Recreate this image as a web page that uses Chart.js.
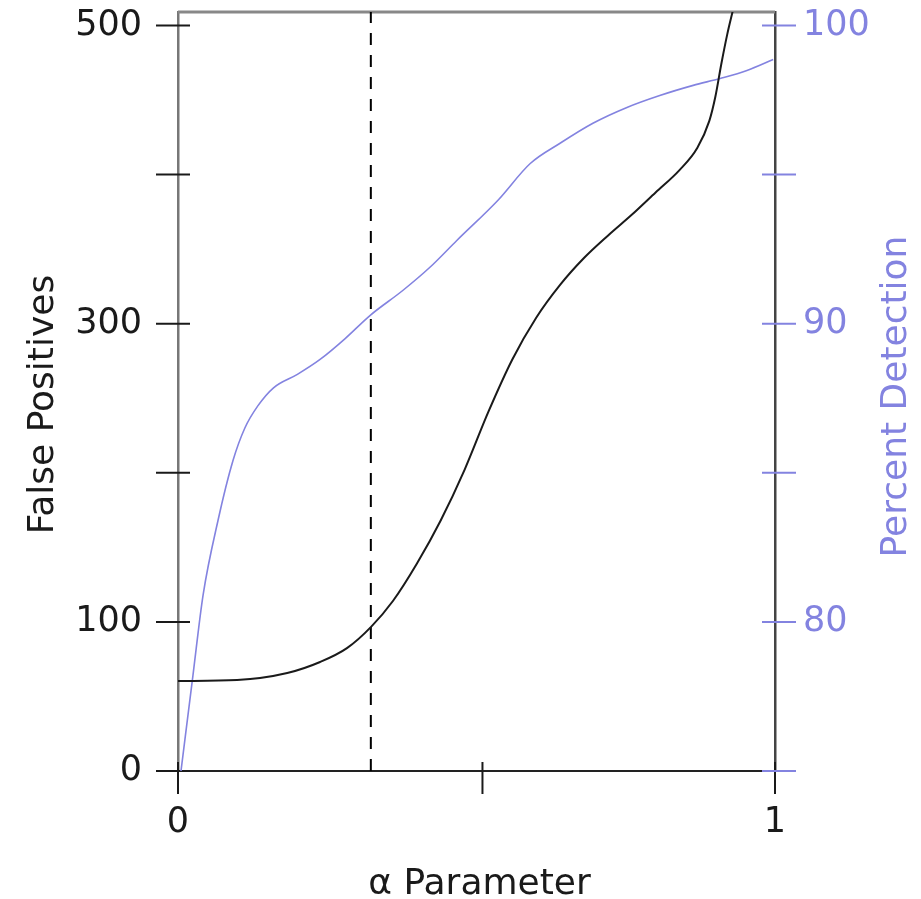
<!DOCTYPE html>
<html>
<head>
<meta charset="utf-8">
<script src="https://cdn.jsdelivr.net/npm/chart.js@4.4.1/dist/chart.umd.min.js"></script>
<style>
    html, body { margin: 0; padding: 0; background: #fff; }
    #chart-alpha { display: block; }
</style>
</head>
<body>
<canvas id="chart-alpha" width="921" height="899"></canvas>
<script>
// valores
const alphaFP = [0, 0.099, 0.183, 0.238, 0.283, 0.323, 0.36, 0.40, 0.44, 0.48, 0.52, 0.56, 0.60, 0.64, 0.68, 0.72, 0.76, 0.80, 0.84, 0.87, 0.89, 0.90, 0.91, 0.92, 0.93];
const falsePositives = [60.3, 61.0, 65.7, 73.1, 82.4, 96.5, 114, 139, 168, 202, 241, 276, 304, 326, 344, 359, 373, 388, 403, 418, 436, 452, 474, 494, 511];

const alphaDet = [0.005, 0.025, 0.042, 0.067, 0.092, 0.112, 0.134, 0.16, 0.20, 0.238, 0.28, 0.322, 0.377, 0.422, 0.467, 0.536, 0.59, 0.64, 0.695, 0.752, 0.807, 0.863, 0.908, 0.953, 0.997];
const percentDetection = [75.0, 78.2, 80.9, 83.4, 85.4, 86.5, 87.25, 87.85, 88.3, 88.8, 89.5, 90.28, 91.12, 91.89, 92.79, 94.14, 95.37, 96.05, 96.72, 97.25, 97.65, 97.99, 98.22, 98.49, 98.86];

const alphaCut = 0.323;

const fpTicks = [0, 100, 200, 300, 400, 500];
const fpTickLabels = ["0", "100", "", "300", "", "500"];
const detTicks = [75, 80, 85, 90, 95, 100];
const detTickLabels = ["", "80", "", "90", "", "100"];
const alphaTicks = [0, 0.51, 1];
const alphaTickLabels = ["0", "", "1"];

const fpRange = [0, 509];
const detRange = [75, 100.45];

const azul = "#8383e0";
const negro = "#1a1a1a";

Chart.defaults.font.family = "'DejaVu Sans', sans-serif";

// sin margen extra por las etiquetas
function sinPadding(scale) {
    scale.paddingTop = 0;
    scale.paddingBottom = 0;
    scale.paddingLeft = 0;
    scale.paddingRight = 0;
}

// ticks que cruzan el eje, borde superior y titulos de ejes
const ejesPlugin = {
    id: "ejes",
    beforeDatasetsDraw(chart) {
        const { ctx, chartArea, scales } = chart;
        ctx.save();
        ctx.lineWidth = 2;
        ctx.strokeStyle = negro;
        scales.y.ticks.forEach((t) => {
            const y = scales.y.getPixelForValue(t.value);
            ctx.beginPath();
            ctx.moveTo(chartArea.left - 22, y);
            ctx.lineTo(chartArea.left + 12, y);
            ctx.stroke();
        });
        scales.x.ticks.forEach((t) => {
            const x = scales.x.getPixelForValue(t.value);
            ctx.beginPath();
            ctx.moveTo(x, chartArea.bottom - 9);
            ctx.lineTo(x, chartArea.bottom + 23);
            ctx.stroke();
        });
        ctx.strokeStyle = azul;
        scales.y1.ticks.forEach((t) => {
            const y = scales.y1.getPixelForValue(t.value);
            ctx.beginPath();
            ctx.moveTo(chartArea.right - 13, y);
            ctx.lineTo(chartArea.right + 21, y);
            ctx.stroke();
        });
        ctx.strokeStyle = "#888";
        ctx.lineWidth = 3;
        ctx.beginPath();
        ctx.moveTo(chartArea.left, chartArea.top);
        ctx.lineTo(chartArea.right, chartArea.top);
        ctx.stroke();
        ctx.restore();
    },
    afterDraw(chart) {
        const { ctx, chartArea } = chart;
        const midY = (chartArea.top + chartArea.bottom) / 2;
        ctx.save();
        ctx.font = "36px 'DejaVu Sans'";
        ctx.textAlign = "center";
        ctx.textBaseline = "alphabetic";
        ctx.fillStyle = negro;
        ctx.fillText("α Parameter", (chartArea.left + chartArea.right) / 2 + 3, 894);

        ctx.save();
        ctx.translate(53, midY + 13);
        ctx.rotate(-Math.PI / 2);
        ctx.fillText("False Positives", 0, 0);
        ctx.restore();

        ctx.save();
        ctx.fillStyle = azul;
        ctx.translate(906, midY + 5);
        ctx.rotate(-Math.PI / 2);
        ctx.fillText("Percent Detection", 0, 0);
        ctx.restore();
        ctx.restore();
    },
};

const ctx = document.getElementById("chart-alpha").getContext("2d");
new Chart(ctx, {
    type: "line",
    data: {
        datasets: [
            {
                label: "False Positives",
                data: alphaFP.map((a, i) => ({ x: a, y: falsePositives[i] })),
                yAxisID: "y",
                borderColor: negro,
                borderWidth: 2,
                pointRadius: 0,
                cubicInterpolationMode: "monotone",
            },
            {
                label: "Percent Detection",
                data: alphaDet.map((a, i) => ({ x: a, y: percentDetection[i] })),
                yAxisID: "y1",
                borderColor: azul,
                borderWidth: 1.6,
                pointRadius: 0,
                cubicInterpolationMode: "monotone",
            },
            {
                label: "corte",
                data: [
                    { x: alphaCut, y: fpRange[0] },
                    { x: alphaCut, y: fpRange[1] },
                ],
                yAxisID: "y",
                borderColor: "#000",
                borderWidth: 2,
                borderDash: [12, 10],
                pointRadius: 0,
            },
        ],
    },
    options: {
        responsive: false,
        animation: false,
        layout: { padding: { top: 12, left: 0, right: 0, bottom: 0 } },
        plugins: {
            legend: { display: false },
            tooltip: { enabled: false },
        },
        scales: {
            x: {
                type: "linear",
                min: 0,
                max: 1,
                afterBuildTicks: (scale) => {
                    scale.ticks = alphaTicks.map((v) => ({ value: v }));
                },
                afterFit: (scale) => {
                    scale.height = 128;
                    sinPadding(scale);
                },
                ticks: {
                    padding: 31,
                    color: negro,
                    font: { size: 35 },
                    maxRotation: 0,
                    autoSkip: false,
                    callback: (v, i) => alphaTickLabels[i],
                },
                grid: { display: false, drawTicks: false },
                border: { display: true, color: "#222", width: 2 },
            },
            y: {
                type: "linear",
                position: "left",
                min: fpRange[0],
                max: fpRange[1],
                afterBuildTicks: (scale) => {
                    scale.ticks = fpTicks.map((v) => ({ value: v }));
                },
                afterFit: (scale) => {
                    scale.width = 178;
                    sinPadding(scale);
                },
                ticks: {
                    padding: 36,
                    color: negro,
                    font: { size: 35 },
                    autoSkip: false,
                    callback: (v, i) => fpTickLabels[i],
                },
                grid: { display: false, drawTicks: false },
                border: { display: true, color: "#777", width: 2.5 },
            },
            y1: {
                type: "linear",
                position: "right",
                min: detRange[0],
                max: detRange[1],
                afterBuildTicks: (scale) => {
                    scale.ticks = detTicks.map((v) => ({ value: v }));
                },
                afterFit: (scale) => {
                    scale.width = 146;
                    sinPadding(scale);
                },
                ticks: {
                    padding: 28,
                    color: azul,
                    font: { size: 35 },
                    autoSkip: false,
                    callback: (v, i) => detTickLabels[i],
                },
                grid: { display: false, drawTicks: false },
                border: { display: true, color: "#444", width: 2.5 },
            },
        },
    },
    plugins: [ejesPlugin],
});
</script>
</body>
</html>
